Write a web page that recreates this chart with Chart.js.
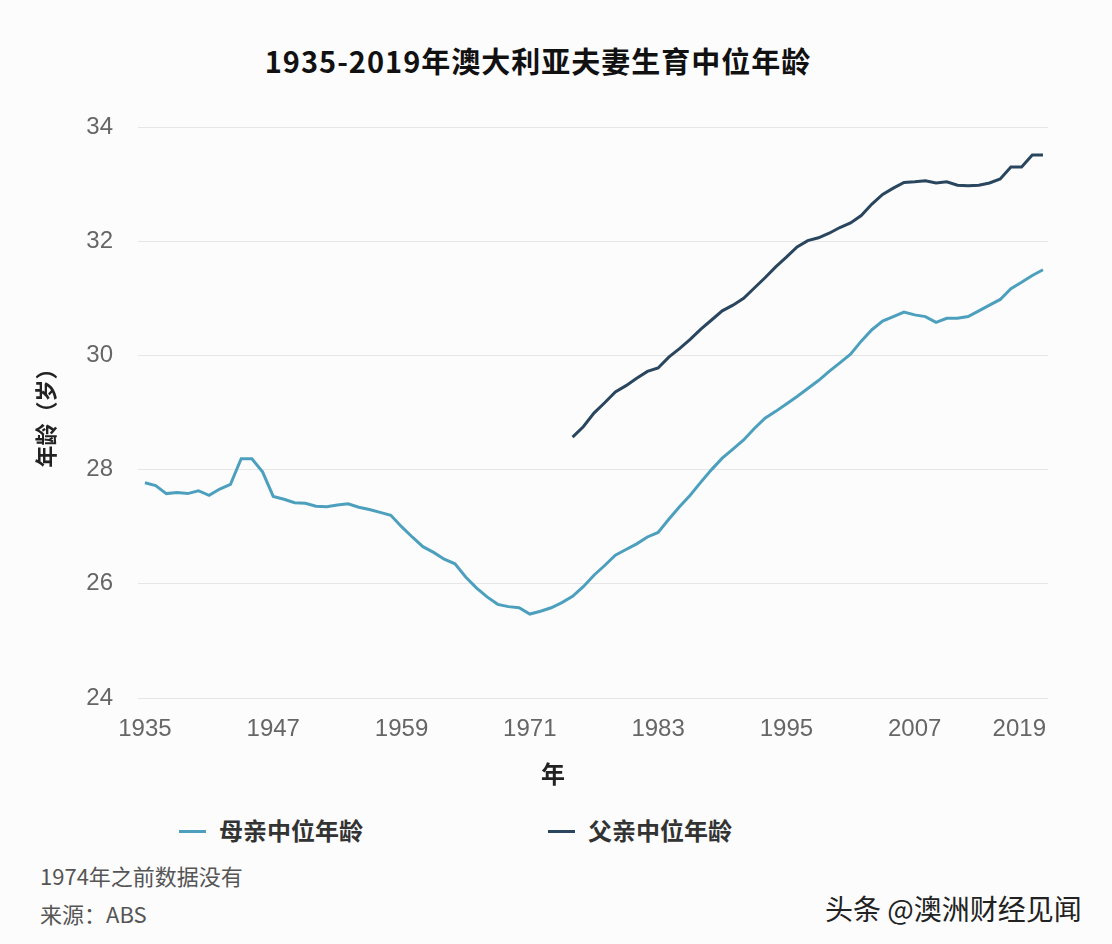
<!DOCTYPE html>
<html>
<head>
<meta charset="utf-8">
<script src="https://cdn.jsdelivr.net/npm/chart.js@4"></script>
<style>
  body { margin: 0; background: #fcfcfd; width: 1112px; height: 944px; position: relative; overflow: hidden;
         font-family: "Noto Sans CJK SC", "Noto Sans", sans-serif; }
  #wrap { position: absolute; left: 0; top: 0; width: 1112px; height: 800px; }
  .txt { position: absolute; white-space: nowrap; }
  #title { left: 0; width: 1076px; top: 40px; line-height: 40px; text-align: center; font-size: 29px; font-weight: 700; color: #111; letter-spacing: 1px; }
  #xtitle { left: 533px; width: 40px; top: 755px; line-height: 36px; text-align: center; font-size: 24px; font-weight: 700; color: #222; }
  .legend { top: 814px; line-height: 32px; font-size: 24px; font-weight: 600; color: #333; }
  .legend i { display: inline-block; width: 27px; height: 3px; vertical-align: middle; margin-right: 13px; position: relative; top: -2px; }
  .note { left: 40px; font-size: 22px; color: #555; line-height: 30px; }
  #mark { left: 825px; top: 891px; line-height: 34px; font-size: 28px; color: #222; }
</style>
</head>
<body>
<div id="title" class="txt">1935-2019年澳大利亚夫妻生育中位年龄</div>
<div id="wrap"><canvas id="chart" width="1112" height="800"></canvas></div>
<div id="xtitle" class="txt">年</div>
<div class="txt legend" style="left:179px"><i style="background:#4da0bd"></i>母亲中位年龄</div>
<div class="txt legend" style="left:548px"><i style="background:#2a465e"></i>父亲中位年龄</div>
<div class="txt note" style="top:860px">1974年之前数据没有</div>
<div class="txt note" style="top:898px">来源：ABS</div>
<div id="mark" class="txt">头条 @澳洲财经见闻</div>

<script>
// 年份范围
const motherStart = 1935;
const fatherStart = 1975;
const endYear = 2019;
const tickYears = [1935, 1947, 1959, 1971, 1983, 1995, 2007, 2019];

// 母亲中位年龄 1935-2019
const motherAge = [
  27.77, 27.72, 27.58, 27.60, 27.58, 27.63, 27.55, 27.66, 27.74, 28.19,
  28.19, 27.96, 27.53, 27.48, 27.42, 27.41, 27.36, 27.35, 27.38, 27.40,
  27.34, 27.30, 27.25, 27.20, 27.00, 26.82, 26.65, 26.55, 26.43, 26.35,
  26.12, 25.93, 25.77, 25.64, 25.60, 25.58, 25.47, 25.52, 25.58, 25.67,
  25.78, 25.95, 26.15, 26.32, 26.50, 26.60, 26.70, 26.82, 26.90, 27.13,
  27.35, 27.55, 27.78, 28.00, 28.20, 28.36, 28.52, 28.72, 28.90, 29.02,
  29.15, 29.28, 29.42, 29.56, 29.72, 29.87, 30.02, 30.25, 30.45, 30.60,
  30.68, 30.76, 30.71, 30.68, 30.58, 30.65, 30.65, 30.68, 30.78, 30.88,
  30.98, 31.17, 31.28, 31.40, 31.50
];

// 父亲中位年龄 1975-2019
const fatherAge = [
  28.57, 28.75, 28.99, 29.17, 29.36, 29.47, 29.60, 29.72, 29.78, 29.97,
  30.12, 30.28, 30.46, 30.62, 30.78, 30.88, 31.00, 31.18, 31.36, 31.55,
  31.72, 31.90, 32.01, 32.06, 32.14, 32.24, 32.32, 32.45, 32.65, 32.82,
  32.93, 33.03, 33.04, 33.06, 33.02, 33.04, 32.98, 32.97, 32.98, 33.02,
  33.09, 33.30, 33.30, 33.51, 33.51
];

const motherColor = "#4da0bd";
const fatherColor = "#2a465e";
const tickFont = { family: "'Liberation Sans', Arial, sans-serif", size: 24 };
const tickColor = "#666";

const toPoints = (start, values) => values.map((v, i) => ({ x: start + i, y: v }));

// 最后一个刻度标签贴右边对齐
const lastTickLabel = {
  id: "lastTickLabel",
  afterDraw(chart) {
    const xs = chart.scales.x;
    const items = xs.getLabelItems ? xs.getLabelItems() : [];
    let y = xs.top + 30;
    let base = "middle";
    if (items.length) {
      y = items[0].options.translation[1] + items[0].textOffset;
      base = items[0].options.textBaseline;
    }
    const ctx = chart.ctx;
    ctx.save();
    ctx.font = `${tickFont.size}px ${tickFont.family}`;
    ctx.fillStyle = tickColor;
    ctx.textAlign = "right";
    ctx.textBaseline = base;
    ctx.fillText(String(endYear), xs.getPixelForValue(endYear) + 3, y);
    ctx.restore();
  }
};

new Chart(document.getElementById("chart"), {
  type: "line",
  data: {
    datasets: [
      {
        label: "母亲中位年龄",
        data: toPoints(motherStart, motherAge),
        borderColor: motherColor,
        borderWidth: 3,
        pointRadius: 0,
        tension: 0
      },
      {
        label: "父亲中位年龄",
        data: toPoints(fatherStart, fatherAge),
        borderColor: fatherColor,
        borderWidth: 3,
        pointRadius: 0,
        tension: 0
      }
    ]
  },
  options: {
    responsive: false,
    devicePixelRatio: 1,
    animation: false,
    layout: { padding: { top: 127, left: 30, right: 64, bottom: 0 } },
    plugins: { legend: { display: false }, tooltip: { enabled: false }, title: { display: false } },
    scales: {
      x: {
        type: "linear",
        min: 1934.35,
        max: 2019.47,
        afterBuildTicks: s => { s.ticks = tickYears.map(v => ({ value: v })); },
        afterFit: s => { s.height = 102; },
        grid: { display: false },
        border: { display: false },
        ticks: {
          autoSkip: false,
          maxRotation: 0,
          padding: 9,
          color: tickColor,
          font: tickFont,
          callback: v => (v === endYear ? "" : String(v))
        }
      },
      y: {
        min: 24,
        max: 34,
        afterFit: s => { s.width = 108; },
        grid: { color: "#e6e6e6", lineWidth: 1, drawTicks: false },
        border: { display: false },
        ticks: { stepSize: 2, padding: 25, color: tickColor, font: tickFont },
        title: {
          display: true,
          text: "年龄（岁）",
          color: "#222",
          padding: { top: 2, bottom: 0 },
          font: { family: "'Noto Sans CJK SC', sans-serif", size: 22, weight: "bold" }
        }
      }
    }
  },
  plugins: [lastTickLabel]
});
</script>
</body>
</html>
